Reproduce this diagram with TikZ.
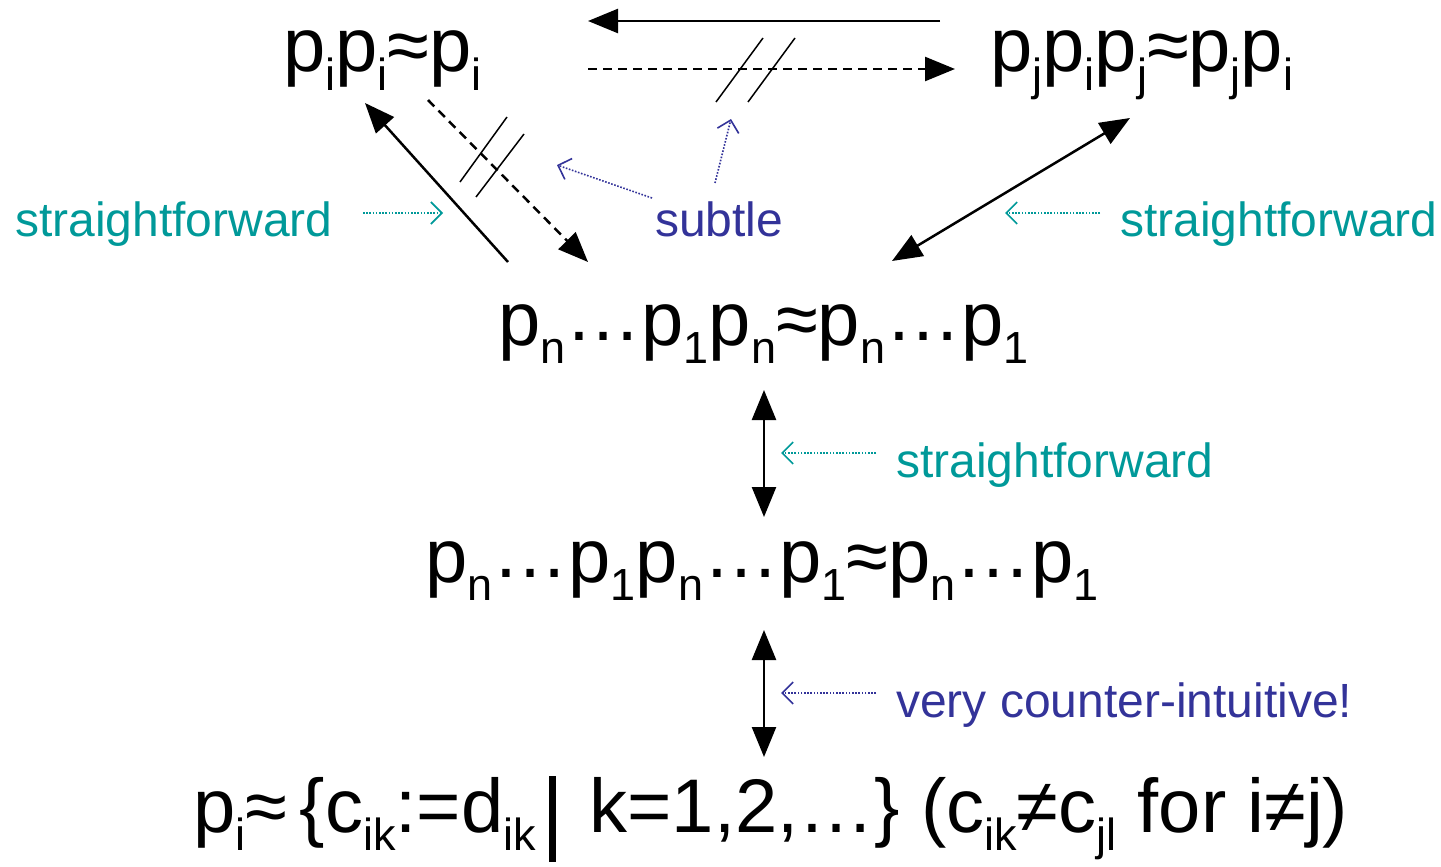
\documentclass[tikz,border=0pt]{standalone}
\usepackage{fontspec}
\setmainfont{Liberation Sans}
\usetikzlibrary{arrows.meta}
\definecolor{tealc}{RGB}{0,153,153}
\definecolor{navyc}{RGB}{51,51,153}
\newcommand{\sbx}[1]{\raisebox{-18pt}{\fontsize{45}{45}\selectfont #1}}
\newcommand{\eld}{\raisebox{5pt}{…}}
\tikzset{
  formula/.style={inner sep=0pt, anchor=base west, font=\fontsize{76}{80}\selectfont},
  note/.style={inner sep=0pt, anchor=base west, font=\fontsize{48}{52}\selectfont},
  bigarrow/.style={line width=2.5pt, -{Triangle[length=30pt,width=24pt]}},
  bigboth/.style={line width=2.5pt, {Triangle[length=30pt,width=24pt]}-{Triangle[length=30pt,width=24pt]}},
  dasharrow/.style={bigarrow, dash pattern=on 9pt off 6pt},
  hatch/.style={line width=1.5pt},
  hint/.style={line width=1.6pt, dash pattern=on 1.6pt off 1.6pt, -{Straight Barb[length=11pt,width=22pt,line width=1.6pt]}}
}
\begin{document}
\begin{tikzpicture}[x=1pt,y=-1pt]
\useasboundingbox (0,0) rectangle (1441,867);
% formulas
\node[formula] (A) at (283,72) {p\sbx{i}p\sbx{i}≈p\sbx{i}};
\node[formula] (B) at (990,72) {p\sbx{j}p\sbx{i}p\sbx{j}≈p\sbx{j}p\sbx{i}};
\node[formula] (C) at (498,345) {p\sbx{n}\eld p\sbx{1}p\sbx{n}≈p\sbx{n}\eld p\sbx{1}};
\node[formula] (D) at (425,582) {p\sbx{n}\eld p\sbx{1}p\sbx{n}\eld p\sbx{1}≈p\sbx{n}\eld p\sbx{1}};
\node[formula] (E) at (193,832) {p\sbx{i}≈\,\{c\sbx{ik}:=d\sbx{ik}\,\rule[-30pt]{7pt}{86pt}\, k=1,2,…\} (c\sbx{ik}≠c\sbx{jl} for i≠j)};
% notes
\node[note, text=tealc] (n1) at (15,236) {straightforward};
\node[note, text=navyc] (n2) at (655,236) {subtle};
\node[note, text=tealc] (n3) at (1120,236) {straightforward};
\node[note, text=tealc] (n4) at (896,477) {straightforward};
\node[note, text=navyc] (n5) at (896,717) {very counter-intuitive!};
% connector end points
\coordinate (ABs) at (940,21);   \coordinate (ABe) at (588,21);
\coordinate (ABds) at (588,69);  \coordinate (ABde) at (955,69);
\coordinate (CAs) at (508,262);  \coordinate (CAe) at (365,103);
\coordinate (ACs) at (428,100);  \coordinate (ACe) at (588,262);
\coordinate (BCa) at (1130,118); \coordinate (BCb) at (892,261);
\coordinate (CDa) at (764,390);  \coordinate (CDb) at (764,517);
\coordinate (DEa) at (764,630);  \coordinate (DEb) at (764,757);
% main connectors
\draw[bigarrow] (ABs) -- (ABe);
\draw[dasharrow] (ABds) -- (ABde);
\draw[bigarrow] (CAs) -- (CAe);
\draw[dasharrow] (ACs) -- (ACe);
\draw[bigboth] (BCb) -- (BCa);
\draw[bigboth] (CDa) -- (CDb);
\draw[bigboth] (DEa) -- (DEb);
% hatch marks
\draw[hatch] (716,102) -- (763,38);
\draw[hatch] (748,102) -- (795,38);
\draw[hatch] (460,182) -- (507,117);
\draw[hatch] (476,197) -- (524,134);
% hint arrows
\coordinate (h1s) at (363,213); \coordinate (h1e) at (443,213);
\coordinate (h2s) at (652,198); \coordinate (h2e) at (557,165);
\coordinate (h3s) at (715,183); \coordinate (h3e) at (731,119);
\coordinate (h4s) at (1100,213); \coordinate (h4e) at (1005,213);
\coordinate (h5s) at (876,453); \coordinate (h5e) at (781,453);
\coordinate (h6s) at (876,693); \coordinate (h6e) at (781,693);
\draw[hint, draw=tealc] (h1s) -- (h1e);
\draw[hint, draw=navyc] (h2s) -- (h2e);
\draw[hint, draw=navyc] (h3s) -- (h3e);
\draw[hint, draw=tealc] (h4s) -- (h4e);
\draw[hint, draw=tealc] (h5s) -- (h5e);
\draw[hint, draw=navyc] (h6s) -- (h6e);
\end{tikzpicture}
\end{document}
